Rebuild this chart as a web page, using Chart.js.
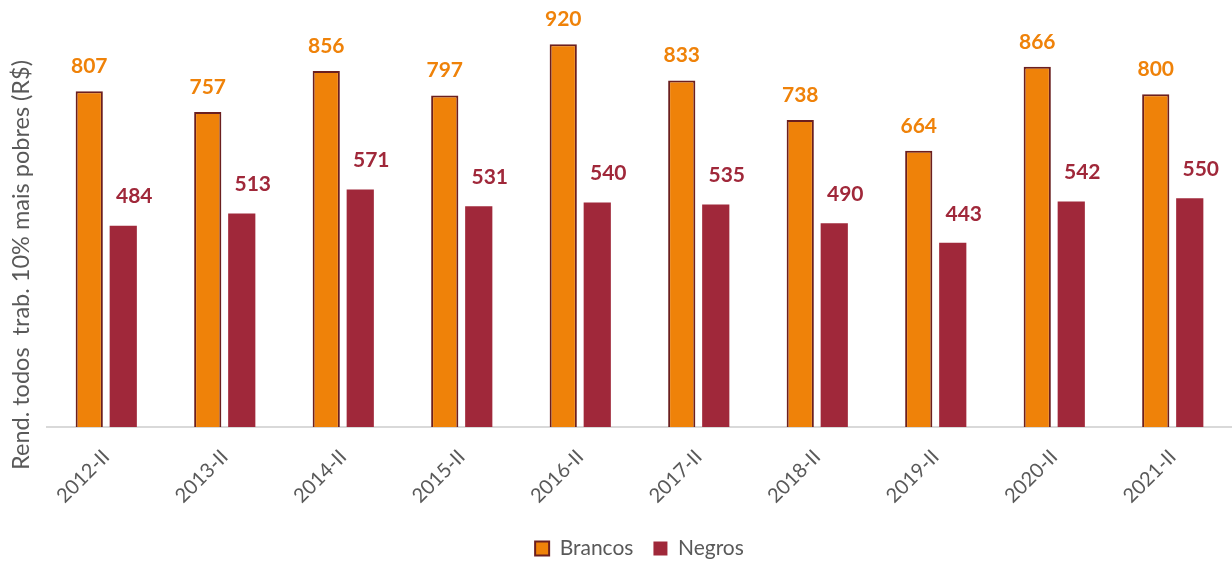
<!DOCTYPE html>
<html>
<head>
<meta charset="utf-8">
<script src="https://cdn.jsdelivr.net/npm/chart.js@4/dist/chart.umd.min.js"></script>
<style>
  html, body { margin: 0; padding: 0; background: #fff; }
  #wrap { width: 1232px; height: 563px; position: relative; }
</style>
</head>
<body>
<div id="wrap"><canvas id="chart"></canvas></div>
<script>
// Data
const categories = ['2012-II', '2013-II', '2014-II', '2015-II', '2016-II', '2017-II', '2018-II', '2019-II', '2020-II', '2021-II'];
const brancos = [807, 757, 856, 797, 920, 833, 738, 664, 866, 800];
const negros = [484, 513, 571, 531, 540, 535, 490, 443, 542, 550];
const yTitle = 'Rend. todos  trab. 10% mais pobres (R$)';

const ORANGE = '#EF8209';
const RED = '#A0283A';
const GRAY = '#595959';

// Value labels above bars + custom y axis title
const labelsPlugin = {
  id: 'barLabels',
  afterDatasetsDraw(chart) {
    const ctx = chart.ctx;
    ctx.save();
    ctx.font = 'bold 21px Lato';
    ctx.textAlign = 'center';
    ctx.textBaseline = 'middle';
    chart.data.datasets.forEach((ds, i) => {
      const meta = chart.getDatasetMeta(i);
      meta.data.forEach((bar, j) => {
        ctx.fillStyle = i === 0 ? ORANGE : RED;
        const dx = i === 0 ? 0 : 11;
        const dy = i === 0 ? 25 : 29;
        ctx.fillText(ds.data[j], bar.x + dx, bar.y - dy);
      });
    });

    // y axis title
    ctx.translate(21, 265);
    ctx.rotate(-Math.PI / 2);
    ctx.font = '23.5px Lato';
    ctx.fillStyle = GRAY;
    ctx.fillText(yTitle, 0, 0);
    ctx.restore();
  }
};

new Chart(document.getElementById('chart'), {
  type: 'bar',
  data: {
    labels: categories,
    datasets: [
      {
        label: 'Brancos',
        data: brancos,
        backgroundColor: ORANGE,
        borderColor: '#6B1F1F',
        borderWidth: 2,
        barPercentage: 0.8,
        categoryPercentage: 0.574
      },
      {
        label: 'Negros',
        data: negros,
        backgroundColor: RED,
        borderColor: RED,
        borderWidth: 0,
        barPercentage: 0.8,
        categoryPercentage: 0.574
      }
    ]
  },
  options: {
    responsive: true,
    maintainAspectRatio: false,
    animation: false,
    layout: {
      padding: { left: 47, right: 0, top: 11, bottom: -6 }
    },
    plugins: {
      legend: {
        position: 'bottom',
        labels: {
          boxWidth: 14,
          boxHeight: 14,
          padding: 20,
          color: GRAY,
          font: { family: 'Lato', size: 21 }
        }
      },
      tooltip: { enabled: false }
    },
    scales: {
      x: {
        grid: { display: false },
        border: { color: '#D9D9D9', width: 2 },
        ticks: {
          color: GRAY,
          padding: 10,
          minRotation: 45,
          maxRotation: 45,
          font: { family: 'Lato', size: 20 }
        }
      },
      y: {
        display: false,
        min: 0,
        max: 1000
      }
    }
  },
  plugins: [labelsPlugin]
});
</script>
</body>
</html>
